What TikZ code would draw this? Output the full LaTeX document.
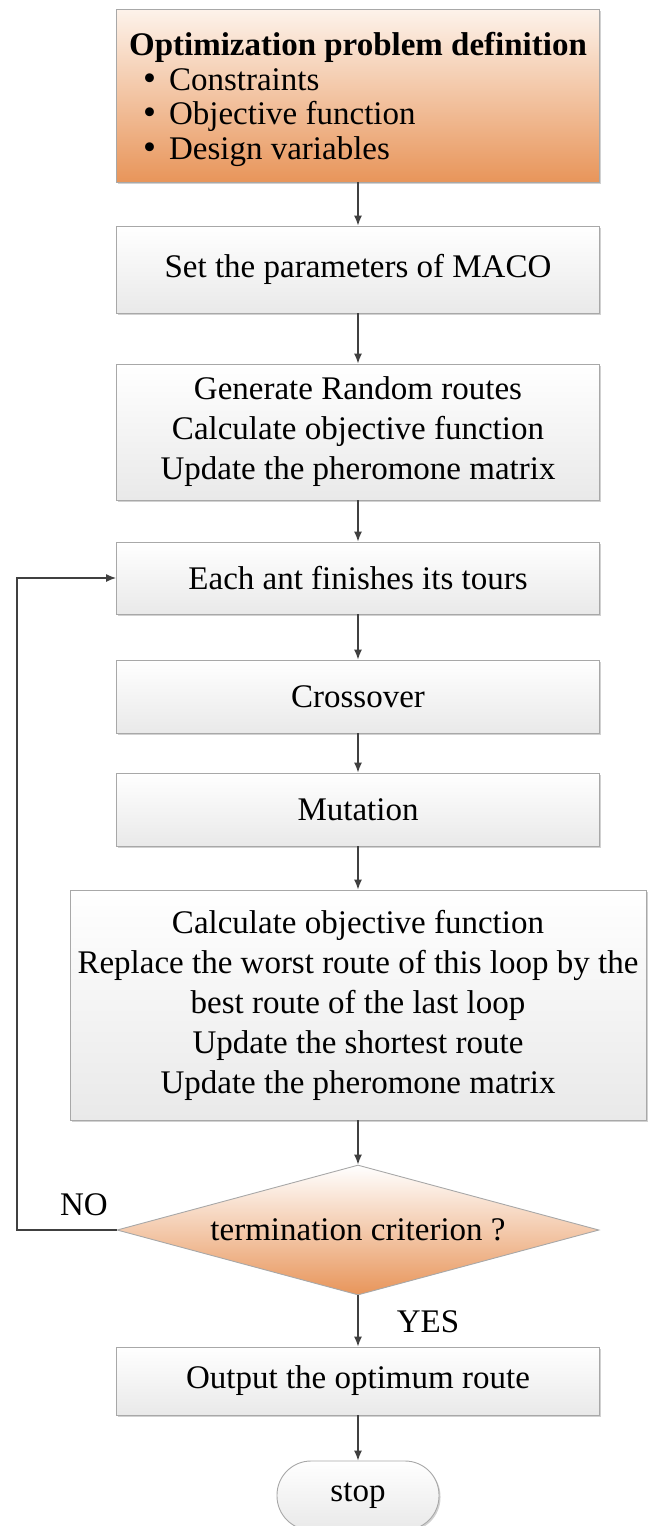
\documentclass[tikz,border=0pt]{standalone}
\usepackage{fontspec}
\setmainfont{Liberation Serif}
\usetikzlibrary{shapes.geometric,arrows.meta,shadows}

\definecolor{boxline}{HTML}{A8A8A8}
\definecolor{boxgray}{HTML}{E9E9E9}
\definecolor{peach}{HTML}{E8955A}
\definecolor{peachlight}{HTML}{FDF3EB}
\definecolor{arrowgray}{HTML}{404040}

\newcommand{\bigdot}{\smash{\fontsize{37}{37}\selectfont\textbullet}}

\tikzset{
    every node/.style={font=\fontsize{33}{40}\selectfont},
    stepbox/.style={draw=boxline, line width=0.9pt, top color=white, bottom color=boxgray,
        minimum width=483pt, inner sep=0pt, align=center,
        drop shadow={shadow xshift=1.5pt, shadow yshift=-1.5pt, opacity=0.3, fill=black!60}},
    defbox/.style={stepbox, top color=peachlight, bottom color=peach},
    checkbox/.style={diamond, aspect=3.7, draw=boxline, line width=0.9pt, top color=white, bottom color=peach,
        minimum width=482pt, minimum height=130pt, inner sep=0pt},
    stopbox/.style={stepbox, minimum width=162pt, minimum height=69pt, rounded corners=34pt},
    arr/.style={draw=arrowgray, line width=1.3pt, -{Latex[length=10pt,width=8pt]}}
}

\begin{document}
\begin{tikzpicture}[x=1pt,y=-1pt]
    \useasboundingbox (0,0) rectangle (648,1526);

    % boxes
    \node[defbox, minimum height=173pt, align=left, font=\fontsize{33}{34.5}\selectfont] (def) at (358,95.5)
        {\rule{0pt}{31pt}\textbf{Optimization problem definition}\\
         \hspace*{14pt}\bigdot\hspace{13pt}Constraints\\
         \hspace*{14pt}\bigdot\hspace{13pt}Objective function\\
         \hspace*{14pt}\bigdot\hspace{13pt}Design variables};
    \node[stepbox, minimum height=87pt] (param) at (358,269.5) {Set the parameters of MACO};
    \node[stepbox, minimum height=136pt] (init) at (358,432)
        {Generate Random routes\\ Calculate objective function\\ Update the pheromone matrix};
    \node[stepbox, minimum height=72pt] (tour) at (358,578) {Each ant finishes its tours};
    \node[stepbox, minimum height=73pt] (cross) at (358,696.5) {Crossover};
    \node[stepbox, minimum height=73pt] (mut) at (358,809.5) {Mutation};
    \node[stepbox, minimum width=576pt, minimum height=230pt] (update) at (358,1005)
        {Calculate objective function\\ Replace the worst route of this loop by the\\
         best route of the last loop\\ Update the shortest route\\ Update the pheromone matrix};
    \node[checkbox] (check) at (358,1230) {termination criterion ?};
    \node[stepbox, minimum height=68pt] (output) at (358,1381) {Output the optimum route};
    \node[stopbox] (stop) at (358,1495.5) {stop};

    % labels
    \node (no) at (84,1205) {NO};
    \node (yes) at (428,1322) {YES};

    % arrows
    \draw[arr] (def) -- (param);
    \draw[arr] (param) -- (init);
    \draw[arr] (init) -- (tour);
    \draw[arr] (tour) -- (cross);
    \draw[arr] (cross) -- (mut);
    \draw[arr] (mut) -- (update);
    \draw[arr] (update) -- (check);
    \draw[arr] (check) -- (output);
    \draw[arr] (output) -- (stop);
    \coordinate (back) at (17,1230);
    \draw[arr] (check.west) -- (back) |- (tour.west);
\end{tikzpicture}
\end{document}
